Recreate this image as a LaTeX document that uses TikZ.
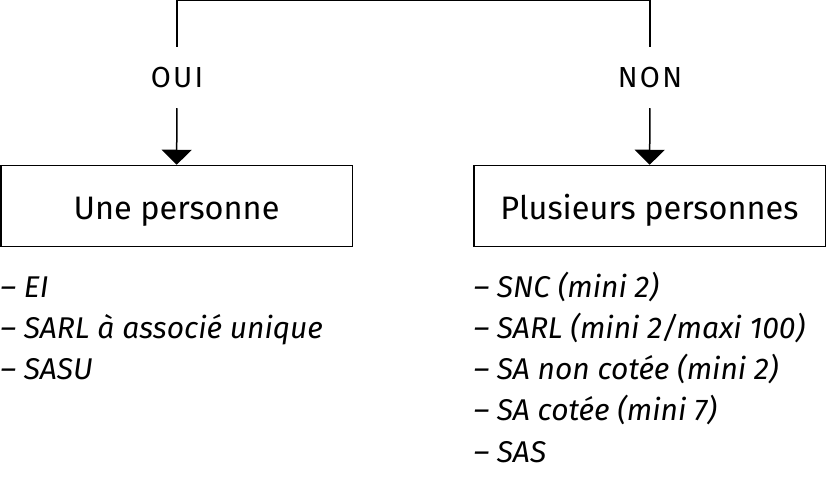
\documentclass[tikz,border=0pt]{standalone}
\usepackage{fontspec}
\setmainfont{Fira Sans}
\usetikzlibrary{positioning,arrows.meta,calc}

\tikzset{
  boite/.style={draw,minimum width=351.5,minimum height=81,inner sep=0pt,
    font=\fontsize{32.5}{38}\selectfont},
  choix/.style={minimum height=60,inner sep=0pt,
    font=\fontsize{29}{34}\selectfont\addfontfeatures{LetterSpace=8}},
  fleche/.style={-{Triangle[width=30pt,length=15pt]}},
  liste/.style={anchor=base west,inner sep=0pt,
    font=\fontsize{30}{35}\selectfont\itshape}
}

\begin{document}
\begin{tikzpicture}[x=1pt,y=1pt,line width=1.5pt]
  \def\W{827}
  \def\H{480}
  \def\pas{41.3}
  \useasboundingbox (0,0) rectangle (\W,\H);

  % cadres
  \node[boite] (une) at (176.5,274) {\raisebox{-14pt}[0pt][0pt]{Une personne}};
  \node[boite] (plusieurs) at (649.5,274) {\raisebox{-14pt}[0pt][0pt]{Plusieurs personnes}};

  % reponses
  \node[choix] (oui) at (177,402.5) {OUI};
  \node[choix] (non) at (650,402.5) {NON};

  \draw (oui.north) -- ++(0,46.5) -| (non.north);
  \draw[fleche] (oui) -- (une);
  \draw[fleche] (non) -- (plusieurs);

  % formes juridiques
  \foreach \t [count=\i] in {EI,SARL à associé unique,SASU}{
    \node[liste] (g\i) at (0,{\H-297-(\i-1)*\pas}) {– \t};
  }
  \foreach \t [count=\i] in {SNC (mini 2),SARL (mini 2/maxi 100),SA non cotée (mini 2),SA cotée (mini 7),SAS}{
    \node[liste] (d\i) at (473,{\H-297-(\i-1)*\pas}) {– \t};
  }
\end{tikzpicture}
\end{document}
